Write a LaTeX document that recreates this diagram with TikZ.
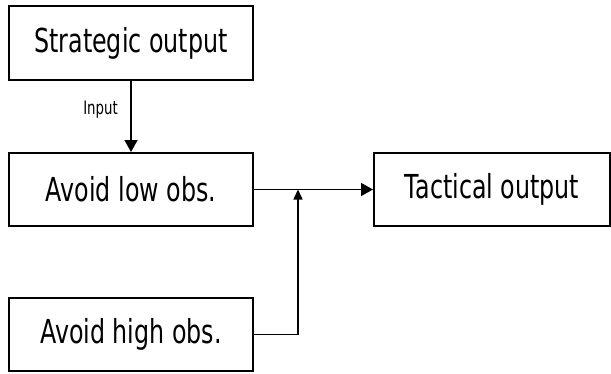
\documentclass[tikz,border=0pt]{standalone}
\usepackage{fontspec}
\setmainfont{DejaVu Sans}
\usetikzlibrary{arrows.meta}
\newcommand{\narrow}[1]{\scalebox{0.72}[1]{#1}}
\begin{document}
\begin{tikzpicture}[x=1pt,y=-1pt,
  blockbox/.style={draw=black,line width=2pt,inner sep=0pt,
    font=\fontsize{33}{36}\selectfont},
  flow/.style={line width=1.5pt,-{Triangle[length=12pt,width=13pt]}},
  joinflow/.style={line width=1.5pt,-{Triangle[length=10pt,width=9pt]}}]
  \useasboundingbox (0,0) rectangle (611,373);
  % blocks
  \node[blockbox,minimum width=244pt,minimum height=74pt] (so) at (131,43) {\narrow{Strategic output}};
  \node[blockbox,minimum width=244pt,minimum height=73pt] (al) at (131,189.5) {\narrow{Avoid low obs.}};
  \node[blockbox,minimum width=244pt,minimum height=73pt] (ah) at (131,334.5) {\narrow{Avoid high obs.}};
  \node[blockbox,minimum width=236pt,minimum height=73pt] (to) at (492,189.5) {\narrow{Tactical output}};
  % junction on the main line
  \coordinate (j) at (298,189.5);
  % connectors
  \draw[flow] (so.south) -- (al.north);
  \node[font=\fontsize{18.5}{20}\selectfont] (lbl) at (100.5,110) {\narrow{Input}};
  \draw[flow] (al.east) -- (to.west);
  \draw[joinflow] (ah.east) -| (j);
\end{tikzpicture}
\end{document}
